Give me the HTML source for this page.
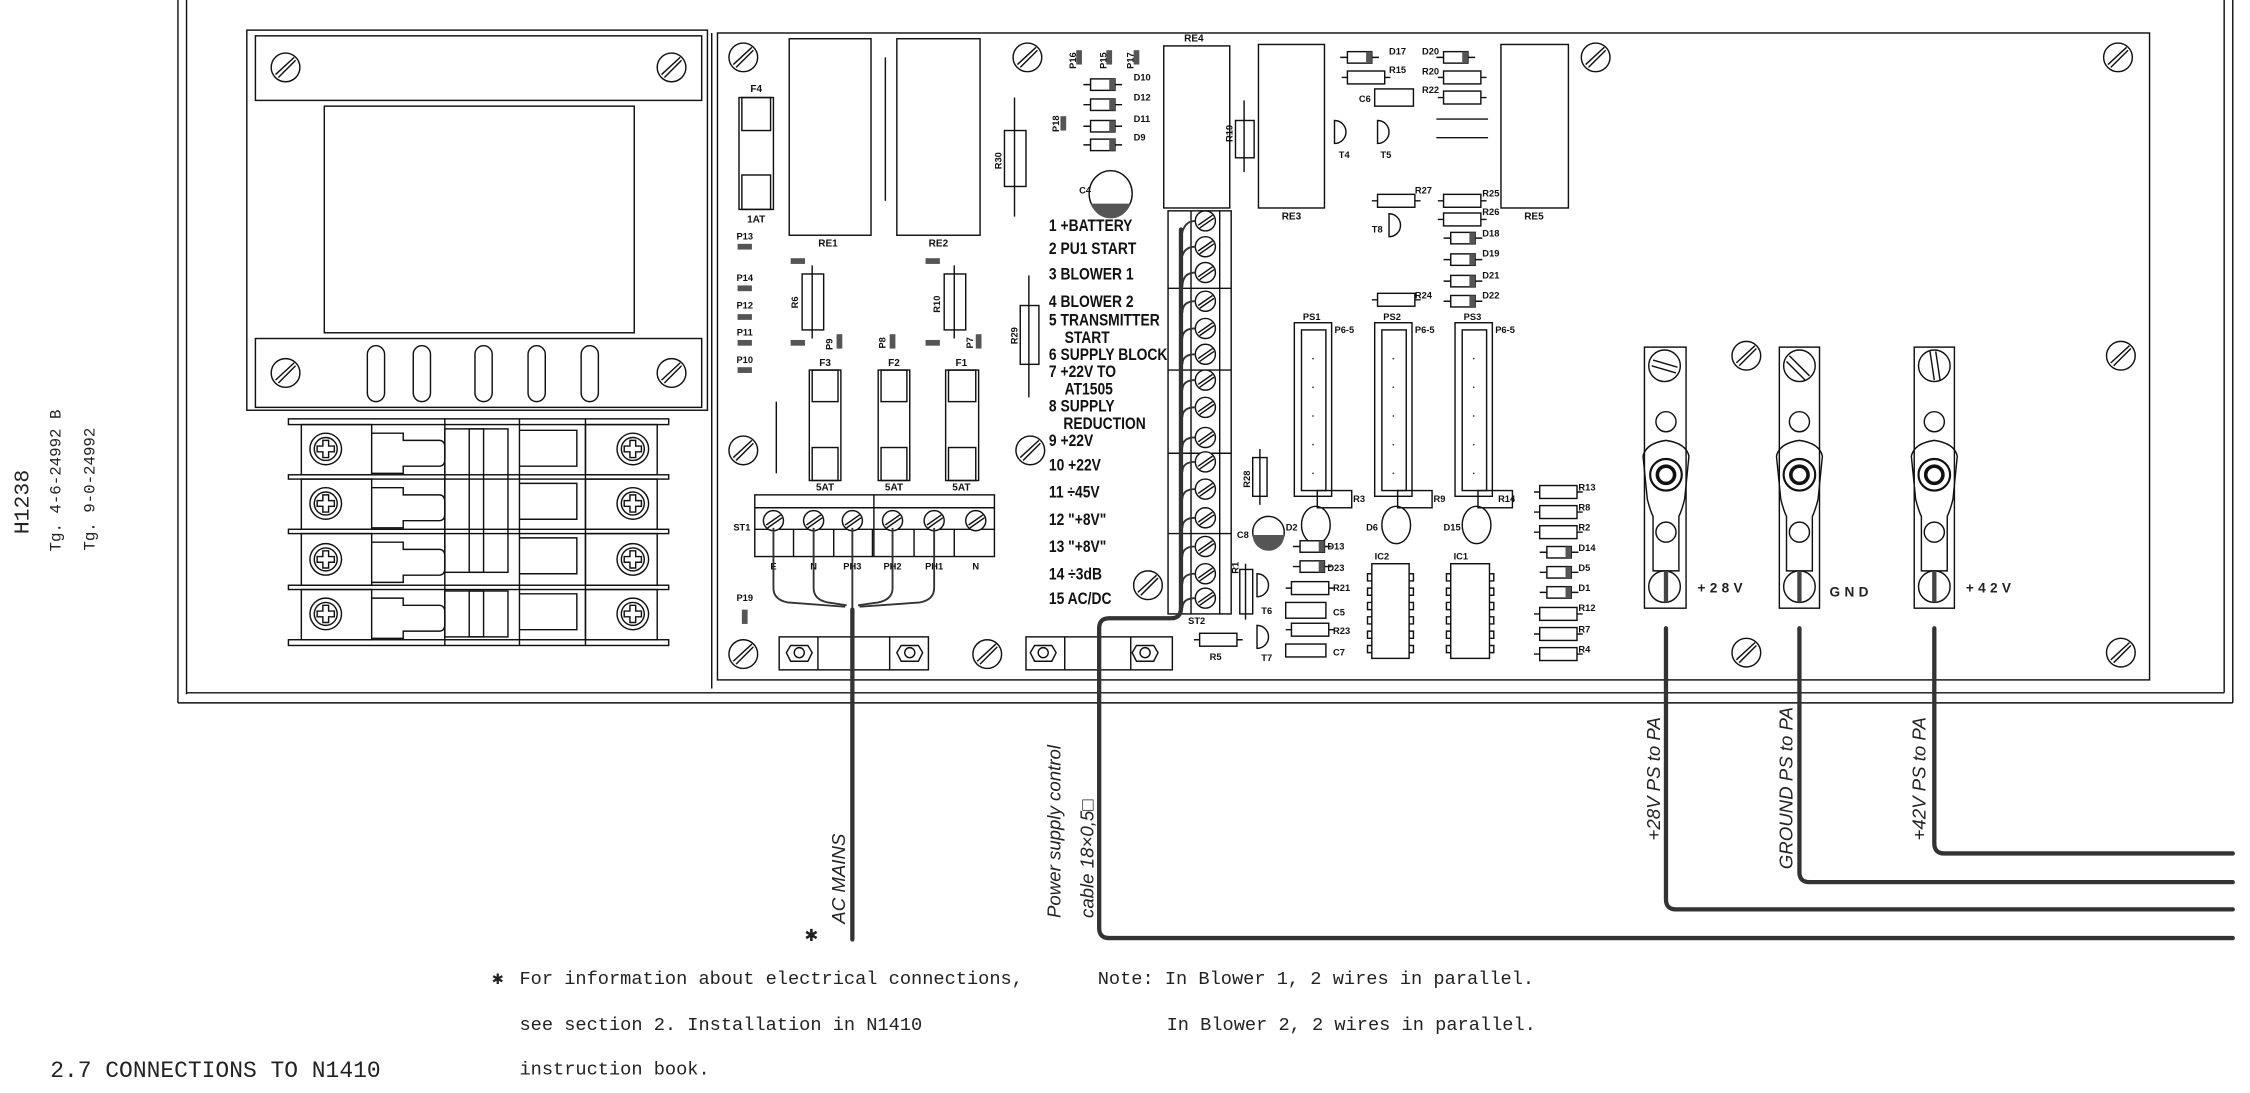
<!DOCTYPE html>
<html><head><meta charset="utf-8"><style>
html,body{margin:0;padding:0;background:#fff;}
svg{display:block}
.s{fill:none;stroke:#111;stroke-width:1}
.l{font-family:"Liberation Sans Narrow","Liberation Sans",sans-serif;font-weight:bold;fill:#111}
.m{font-family:"Liberation Mono",monospace;fill:#222}
.w{fill:none;stroke:#333;stroke-width:3;stroke-linejoin:round;stroke-linecap:round}
.it{font-family:"Liberation Sans",sans-serif;font-style:italic;fill:#222}
</style></head><body>
<svg width="2250" height="1093" viewBox="0 0 1568 762" preserveAspectRatio="none" xmlns="http://www.w3.org/2000/svg">
<defs>
<g id="sc"><circle r="10" fill="#fff" stroke="#111" stroke-width="1"/><line x1="-7" y1="5" x2="6" y2="-7" stroke="#111"/><line x1="-5" y1="7" x2="7" y2="-5" stroke="#111"/></g>
<g id="ph"><circle r="11" fill="#fff" stroke="#111"/><circle r="8" fill="none" stroke="#111"/><path d="M-2,-6 h4 v4 h4 v4 h-4 v4 h-4 v-4 h-4 v-4 h4z" fill="none" stroke="#111"/></g>
<g id="ss"><circle r="7" fill="#fff" stroke="#111"/><line x1="-5" y1="3" x2="5" y2="-4" stroke="#111"/><line x1="-4" y1="5" x2="6" y2="-2" stroke="#111"/></g>
<g id="rh"><line x1="-4" y1="0" x2="30" y2="0" stroke="#111"/><rect x="0" y="-4.5" width="26" height="9" fill="#fff" stroke="#111"/></g>
<g id="dh"><line x1="-5" y1="0" x2="22" y2="0" stroke="#111"/><rect x="0" y="-4" width="17" height="8" fill="#fff" stroke="#111"/><rect x="13" y="-4" width="4" height="8" fill="#555"/></g>
<g id="pad"><rect x="-5" y="-2" width="10" height="4" fill="#555"/></g>
<g id="vpad"><rect x="-2" y="-5" width="4" height="10" fill="#555"/></g>
</defs>

<!-- frame -->
<line class="s" x1="124" y1="0" x2="124" y2="490"/>
<line class="s" x1="130" y1="0" x2="130" y2="484"/>
<line class="s" x1="124" y1="490" x2="1556" y2="490"/>
<line class="s" x1="130" y1="483" x2="1550" y2="483"/>
<line class="s" x1="1550" y1="0" x2="1550" y2="483"/>
<line class="s" x1="1556" y1="0" x2="1556" y2="490"/>

<!-- left text -->
<text class="m" font-size="15" transform="translate(20,350) rotate(-90)" text-anchor="middle">H1238</text>
<text class="m" font-size="11" transform="translate(42,335) rotate(-90)" text-anchor="middle">Tg. 4-6-24992 B</text>
<text class="m" font-size="11" transform="translate(66,341) rotate(-90)" text-anchor="middle">Tg. 9-0-24992</text>

<!-- transformer -->
<rect class="s" x="172" y="21" width="321" height="265"/>
<rect class="s" x="178" y="25" width="311" height="45"/>
<rect class="s" x="226" y="74" width="216" height="158"/>
<rect class="s" x="178" y="236" width="311" height="48"/>
<use href="#sc" x="199" y="47"/><use href="#sc" x="468" y="47"/>
<use href="#sc" x="199" y="260"/><use href="#sc" x="468" y="260"/>
<rect class="s" x="256" y="241" width="12" height="39" rx="6"/>
<rect class="s" x="288" y="241" width="12" height="39" rx="6"/>
<rect class="s" x="331" y="241" width="12" height="39" rx="6"/>
<rect class="s" x="368" y="241" width="12" height="39" rx="6"/>
<rect class="s" x="405" y="241" width="12" height="39" rx="6"/>

<!-- contactor -->
<rect class="s" x="201" y="292" width="265" height="4"/>
<rect class="s" x="201" y="331" width="265" height="3"/>
<rect class="s" x="201" y="369" width="265" height="3"/>
<rect class="s" x="201" y="408" width="265" height="3"/>
<rect class="s" x="201" y="446" width="265" height="4"/>
<line class="s" x1="310" y1="292" x2="310" y2="450"/>
<line class="s" x1="362" y1="292" x2="362" y2="450"/>
<line class="s" x1="408" y1="292" x2="408" y2="450"/>
<rect class="s" x="210" y="296" width="49" height="35"/>
<rect class="s" x="210" y="334" width="49" height="35"/>
<rect class="s" x="210" y="372" width="49" height="36"/>
<rect class="s" x="210" y="411" width="49" height="35"/>
<rect class="s" x="408" y="296" width="50" height="35"/>
<rect class="s" x="408" y="334" width="50" height="35"/>
<rect class="s" x="408" y="372" width="50" height="36"/>
<rect class="s" x="408" y="411" width="50" height="35"/>
<use href="#ph" x="227" y="313"/><use href="#ph" x="227" y="351"/><use href="#ph" x="227" y="390"/><use href="#ph" x="227" y="428"/>
<use href="#ph" x="441" y="313"/><use href="#ph" x="441" y="351"/><use href="#ph" x="441" y="390"/><use href="#ph" x="441" y="428"/>
<path class="s" d="M259,302 h22 v5 h25 q4,0 4,5 v8 q0,5 -4,5 h-25 v5 h-22"/>
<path class="s" d="M259,340 h22 v5 h25 q4,0 4,5 v8 q0,5 -4,5 h-25 v5 h-22"/>
<path class="s" d="M259,378 h22 v5 h25 q4,0 4,5 v8 q0,5 -4,5 h-25 v5 h-22"/>
<path class="s" d="M259,417 h22 v5 h25 q4,0 4,5 v8 q0,5 -4,5 h-25 v5 h-22"/>
<rect class="s" x="310" y="299" width="44" height="100"/>
<rect class="s" x="327" y="299" width="10" height="100"/>
<rect class="s" x="310" y="412" width="44" height="32"/>
<rect class="s" x="327" y="412" width="10" height="32"/>
<path class="s" d="M362,300 h40 v25 h-40 M362,337 h40 v25 h-40 M362,375 h40 v25 h-40 M362,414 h40 v25 h-40"/>

<!-- PCB -->
<rect class="s" x="500" y="23" width="998" height="451"/>
<line class="s" x1="496" y1="23" x2="496" y2="480"/>

<use href="#sc" x="518" y="40"/><use href="#sc" x="716" y="40"/><use href="#sc" x="1112" y="40"/><use href="#sc" x="1476" y="40"/>
<use href="#sc" x="518" y="314"/><use href="#sc" x="718" y="314"/><use href="#sc" x="800" y="408"/>
<use href="#sc" x="518" y="456"/><use href="#sc" x="688" y="456"/>
<use href="#sc" x="1217" y="248"/><use href="#sc" x="1478" y="248"/><use href="#sc" x="1217" y="455"/><use href="#sc" x="1478" y="455"/>

<!-- relays -->
<rect class="s" x="550" y="27" width="57" height="137"/>
<rect class="s" x="625" y="27" width="58" height="137"/>
<line class="s" x1="617" y1="40" x2="617" y2="140"/>
<rect class="s" x="811" y="32" width="46" height="113"/>
<rect class="s" x="877" y="31" width="46" height="114"/>
<rect class="s" x="1046" y="31" width="47" height="114"/>
<g class="l" font-size="7" text-anchor="middle">
<text x="577" y="172">RE1</text><text x="654" y="172">RE2</text><text x="832" y="29">RE4</text><text x="900" y="153">RE3</text><text x="1069" y="153">RE5</text>
<text x="527" y="64">F4</text><text x="527" y="155">1AT</text>
<text x="575" y="255">F3</text><text x="623" y="255">F2</text><text x="670" y="255">F1</text>
<text x="575" y="342">5AT</text><text x="623" y="342">5AT</text><text x="670" y="342">5AT</text>
</g>
<!-- fuses -->
<g class="s">
<rect x="515" y="68" width="24" height="78"/><rect x="517" y="68" width="20" height="23"/><rect x="517" y="122" width="20" height="24"/>
<rect x="564" y="258" width="22" height="77"/><rect x="566" y="258" width="18" height="22"/><rect x="566" y="312" width="18" height="23"/>
<rect x="612" y="258" width="22" height="77"/><rect x="614" y="258" width="18" height="22"/><rect x="614" y="312" width="18" height="23"/>
<rect x="659" y="258" width="23" height="77"/><rect x="661" y="258" width="19" height="22"/><rect x="661" y="312" width="19" height="23"/>
</g>
<line class="s" x1="541" y1="280" x2="541" y2="330"/>
<!-- P pads -->
<g class="l" font-size="6.5" text-anchor="middle">
<text x="519" y="167">P13</text><text x="519" y="196">P14</text><text x="519" y="215">P12</text><text x="519" y="234">P11</text><text x="519" y="253">P10</text><text x="519" y="419">P19</text>
</g>
<use href="#pad" x="519" y="172"/><use href="#pad" x="519" y="201"/><use href="#pad" x="519" y="221"/><use href="#pad" x="519" y="239"/><use href="#pad" x="519" y="258"/>
<rect x="517" y="425" width="4" height="10" fill="#555"/>
<!-- R6 R10 -->
<line class="s" x1="566" y1="185" x2="566" y2="236"/><rect class="s" x="559" y="191" width="15" height="39" fill="#fff"/>
<line class="s" x1="665" y1="185" x2="665" y2="236"/><rect class="s" x="658" y="191" width="15" height="39" fill="#fff"/>
<use href="#pad" x="556" y="182"/><use href="#pad" x="556" y="239"/><use href="#pad" x="650" y="182"/><use href="#pad" x="650" y="239"/>
<use href="#vpad" x="585" y="238"/><use href="#vpad" x="622" y="238"/><use href="#vpad" x="682" y="238"/>
<g class="l" font-size="6.5">
<text transform="translate(556,215) rotate(-90)">R6</text><text transform="translate(655,218) rotate(-90)">R10</text>
<text transform="translate(580,244) rotate(-90)">P9</text><text transform="translate(617,243) rotate(-90)">P8</text><text transform="translate(678,243) rotate(-90)">P7</text>
<text transform="translate(709,240) rotate(-90)">R29</text><text transform="translate(698,118) rotate(-90)">R30</text>
<text transform="translate(859,99) rotate(-90)">R19</text><text transform="translate(738,92) rotate(-90)">P18</text>
<text transform="translate(750,48) rotate(-90)">P16</text><text transform="translate(771,48) rotate(-90)">P15</text><text transform="translate(790,48) rotate(-90)">P17</text>
<text transform="translate(871,340) rotate(-90)">R28</text><text transform="translate(863,400) rotate(-90)">R1</text>
</g>
<!-- R29 R30 R19 -->
<line class="s" x1="717" y1="192" x2="717" y2="277"/><rect class="s" x="711" y="213" width="13" height="41" fill="#fff"/>
<line class="s" x1="707" y1="68" x2="707" y2="151"/><rect class="s" x="700" y="91" width="15" height="39" fill="#fff"/>
<line class="s" x1="867" y1="70" x2="867" y2="120"/><rect class="s" x="861" y="84" width="13" height="26" fill="#fff"/>
<!-- C4 -->
<ellipse class="s" cx="774" cy="135" rx="15" ry="16"/>
<path d="M760,142 A15,16 0 0 0 788,142 Z" fill="#555"/>
<text class="l" font-size="6.5" x="752" y="135">C4</text>
<use href="#vpad" x="752" y="40"/><use href="#vpad" x="773" y="40"/><use href="#vpad" x="792" y="40"/><use href="#vpad" x="741" y="86"/>
<!-- D10.. -->
<use href="#dh" x="760" y="59"/><use href="#dh" x="760" y="73"/><use href="#dh" x="760" y="88"/><use href="#dh" x="760" y="101"/>
<g class="l" font-size="6.5"><text x="790" y="56">D10</text><text x="790" y="70">D12</text><text x="790" y="85">D11</text><text x="790" y="98">D9</text></g>
<!-- top right components -->
<use href="#dh" x="939" y="40"/><use href="#rh" x="939" y="54"/>
<rect class="s" x="958" y="62" width="27" height="12"/>
<use href="#dh" x="1006" y="40"/><use href="#rh" x="1006" y="54"/><use href="#rh" x="1006" y="68"/>
<line class="s" x1="1001" y1="83" x2="1037" y2="83"/><line class="s" x1="1001" y1="96" x2="1037" y2="96"/>
<g class="l" font-size="6.5">
<text x="968" y="38">D17</text><text x="968" y="51">R15</text><text x="947" y="71">C6</text>
<text x="991" y="38">D20</text><text x="991" y="52">R20</text><text x="991" y="65">R22</text>
<text x="933" y="110">T4</text><text x="962" y="110">T5</text><text x="956" y="162">T8</text>
<text x="986" y="135">R27</text><text x="1033" y="137">R25</text><text x="1033" y="150">R26</text>
<text x="1033" y="165">D18</text><text x="1033" y="179">D19</text><text x="1033" y="194">D21</text><text x="1033" y="208">D22</text><text x="986" y="208">R24</text>
</g>
<path class="s" d="M930,84 a8,8 0 0 1 0,16 z"/>
<path class="s" d="M960,84 a8,8 0 0 1 0,16 z"/>
<path class="s" d="M968,149 a8,8 0 0 1 0,16 z"/>
<use href="#rh" x="960" y="140"/><use href="#rh" x="1006" y="140"/><use href="#rh" x="1006" y="153"/><use href="#rh" x="960" y="209"/>
<use href="#dh" x="1011" y="166"/><use href="#dh" x="1011" y="181"/><use href="#dh" x="1011" y="196"/><use href="#dh" x="1011" y="210"/>

<!-- text list -->
<g class="l" font-size="11.5" transform="translate(731,0) scale(0.84,1) translate(-731,0)">
<text x="731" y="161">1 +BATTERY</text>
<text x="731" y="177">2 PU1 START</text>
<text x="731" y="195">3 BLOWER 1</text>
<text x="731" y="214">4 BLOWER 2</text>
<text x="731" y="227">5 TRANSMITTER</text>
<text x="744" y="239">START</text>
<text x="731" y="251">6 SUPPLY BLOCK</text>
<text x="731" y="263">7 +22V TO</text>
<text x="744" y="275">AT1505</text>
<text x="731" y="287">8 SUPPLY</text>
<text x="743" y="299">REDUCTION</text>
<text x="731" y="311">9 +22V</text>
<text x="731" y="328">10 +22V</text>
<text x="731" y="347">11 ÷45V</text>
<text x="731" y="366">12 "+8V"</text>
<text x="731" y="385">13 "+8V"</text>
<text x="731" y="404">14 ÷3dB</text>
<text x="731" y="421">15 AC/DC</text>
</g>

<!-- ST2 -->
<rect class="s" x="814" y="147" width="44" height="281"/>
<line class="s" x1="830" y1="147" x2="830" y2="428"/>
<line class="s" x1="850" y1="147" x2="850" y2="428"/>
<path class="s" d="M814,201 h44 M814,258 h44 M814,316 h44 M814,372 h44"/>
<use href="#ss" x="840" y="154"/><use href="#ss" x="840" y="172"/><use href="#ss" x="840" y="190"/>
<use href="#ss" x="840" y="210"/><use href="#ss" x="840" y="229"/><use href="#ss" x="840" y="247"/>
<use href="#ss" x="840" y="265"/><use href="#ss" x="840" y="284"/><use href="#ss" x="840" y="305"/>
<use href="#ss" x="840" y="322"/><use href="#ss" x="840" y="341"/><use href="#ss" x="840" y="361"/>
<use href="#ss" x="840" y="381"/><use href="#ss" x="840" y="400"/><use href="#ss" x="840" y="417"/>
<g fill="none" stroke="#333" stroke-width="1.3">
<path d="M823,170 q0,-16 10,-16"/><path d="M823,185 q0,-13 10,-13"/><path d="M824,200 q0,-10 9,-10"/>
<path d="M824,218 q0,-8 9,-8"/><path d="M824,236 q0,-7 9,-7"/><path d="M824,254 q0,-7 9,-7"/>
<path d="M824,272 q0,-7 9,-7"/><path d="M824,291 q0,-7 9,-7"/><path d="M824,312 q0,-7 9,-7"/>
<path d="M824,329 q0,-7 9,-7"/><path d="M824,348 q0,-7 9,-7"/><path d="M824,368 q0,-7 9,-7"/>
<path d="M824,388 q0,-7 9,-7"/><path d="M824,407 q0,-7 9,-7"/><path d="M824,424 q0,-7 9,-7"/>
</g>
<text class="l" font-size="6.5" x="828" y="435">ST2</text>

<!-- ST1 -->
<rect class="s" x="526" y="345" width="167" height="43"/>
<line class="s" x1="526" y1="354" x2="693" y2="354"/>
<line class="s" x1="526" y1="369" x2="693" y2="369"/>
<line class="s" x1="609" y1="345" x2="609" y2="388"/>
<path class="s" d="M553,369 v19 M581,369 v19 M608,369 v19 M637,369 v19 M665,369 v19"/>
<use href="#ss" x="539" y="363"/><use href="#ss" x="567" y="363"/><use href="#ss" x="594" y="363"/><use href="#ss" x="622" y="363"/><use href="#ss" x="651" y="363"/><use href="#ss" x="680" y="363"/>
<g class="l" font-size="6.5" text-anchor="middle">
<text x="517" y="370">ST1</text>
<text x="539" y="397">E</text><text x="567" y="397">N</text><text x="594" y="397">PH3</text><text x="622" y="397">PH2</text><text x="651" y="397">PH1</text><text x="680" y="397">N</text>
</g>
<g fill="none" stroke="#333" stroke-width="1.3">
<path d="M539,368 V410 q0,8 10,10 l40,3"/><path d="M567,368 V410 q0,8 10,10 l13,2"/>
<path d="M594,368 V430"/><path d="M622,368 V410 q0,8 -10,10 l-14,2"/><path d="M651,368 V410 q0,8 -10,10 l-42,3"/>
</g>

<!-- bottom clamps -->
<rect class="s" x="543" y="444" width="104" height="23"/>
<path class="s" d="M570,444 v23 M620,444 v23"/>
<polygon class="s" points="551,450 563,450 566,455 563,461 551,461 548,455"/><circle class="s" cx="557" cy="455" r="3.5"/>
<polygon class="s" points="628,450 640,450 643,455 640,461 628,461 625,455"/><circle class="s" cx="634" cy="455" r="3.5"/>
<rect class="s" x="715" y="444" width="102" height="23"/>
<path class="s" d="M742,444 v23 M788,444 v23"/>
<polygon class="s" points="721,450 733,450 736,455 733,461 721,461 718,455"/><circle class="s" cx="727" cy="455" r="3.5"/>
<polygon class="s" points="792,450 804,450 807,455 804,461 792,461 789,455"/><circle class="s" cx="798" cy="455" r="3.5"/>

<!-- middle lower components -->
<line class="s" x1="878" y1="313" x2="878" y2="352"/><rect class="s" x="873" y="319" width="10" height="27" fill="#fff"/>
<circle class="s" cx="884" cy="371" r="11"/><path d="M873,373 A11,11 0 0 0 895,373 Z" fill="#555"/>
<text class="l" font-size="6.5" x="862" y="375">C8</text>
<g class="s">
<rect x="902" y="225" width="26" height="121"/><rect x="907" y="230" width="17" height="112"/>
<rect x="958" y="225" width="26" height="121"/><rect x="963" y="230" width="17" height="112"/>
<rect x="1014" y="225" width="26" height="121"/><rect x="1019" y="230" width="17" height="112"/>
</g>
<g fill="#333"><circle cx="915" cy="250" r=".6"/><circle cx="915" cy="270" r=".6"/><circle cx="915" cy="290" r=".6"/><circle cx="915" cy="310" r=".6"/><circle cx="915" cy="330" r=".6"/>
<circle cx="971" cy="250" r=".6"/><circle cx="971" cy="270" r=".6"/><circle cx="971" cy="290" r=".6"/><circle cx="971" cy="310" r=".6"/><circle cx="971" cy="330" r=".6"/>
<circle cx="1027" cy="250" r=".6"/><circle cx="1027" cy="270" r=".6"/><circle cx="1027" cy="290" r=".6"/><circle cx="1027" cy="310" r=".6"/><circle cx="1027" cy="330" r=".6"/></g>
<g class="l" font-size="6.5">
<text x="908" y="223">PS1</text><text x="964" y="223">PS2</text><text x="1020" y="223">PS3</text>
<text x="930" y="232">P6-5</text><text x="986" y="232">P6-5</text><text x="1042" y="232">P6-5</text>
<text x="943" y="350">R3</text><text x="999" y="350">R9</text><text x="1044" y="350">R14</text>
<text x="896" y="370">D2</text><text x="952" y="370">D6</text><text x="1006" y="370">D15</text>
<text x="958" y="390">IC2</text><text x="1013" y="390">IC1</text>
<text x="925" y="383">D13</text><text x="925" y="398">D23</text><text x="929" y="412">R21</text><text x="929" y="429">C5</text><text x="929" y="442">R23</text><text x="929" y="457">C7</text>
<text x="879" y="428">T6</text><text x="879" y="461">T7</text><text x="843" y="460">R5</text>
<text x="1100" y="342">R13</text><text x="1100" y="356">R8</text><text x="1100" y="370">R2</text><text x="1100" y="384">D14</text><text x="1100" y="398">D5</text><text x="1100" y="412">D1</text><text x="1100" y="426">R12</text><text x="1100" y="441">R7</text><text x="1100" y="455">R4</text>
</g>
<rect class="s" x="918" y="342" width="24" height="12" fill="#fff"/>
<rect class="s" x="974" y="342" width="24" height="12" fill="#fff"/>
<rect class="s" x="1030" y="342" width="24" height="12" fill="#fff"/>
<ellipse class="s" cx="917" cy="366" rx="10" ry="13"/><ellipse class="s" cx="973" cy="366" rx="10" ry="13"/><ellipse class="s" cx="1029" cy="366" rx="10" ry="13"/>
<rect class="s" x="956" y="393" width="26" height="66"/><rect class="s" x="1011" y="393" width="27" height="66"/>
<g class="s">
<path d="M956,400 h-3 v5 h3 M956,410 h-3 v5 h3 M956,420 h-3 v5 h3 M956,430 h-3 v5 h3 M956,440 h-3 v5 h3 M956,450 h-3 v5 h3"/>
<path d="M982,400 h3 v5 h-3 M982,410 h3 v5 h-3 M982,420 h3 v5 h-3 M982,430 h3 v5 h-3 M982,440 h3 v5 h-3 M982,450 h3 v5 h-3"/>
<path d="M1011,400 h-3 v5 h3 M1011,410 h-3 v5 h3 M1011,420 h-3 v5 h3 M1011,430 h-3 v5 h3 M1011,440 h-3 v5 h3 M1011,450 h-3 v5 h3"/>
<path d="M1038,400 h3 v5 h-3 M1038,410 h3 v5 h-3 M1038,420 h3 v5 h-3 M1038,430 h3 v5 h-3 M1038,440 h3 v5 h-3 M1038,450 h3 v5 h-3"/>
</g>
<use href="#dh" x="906" y="381"/><use href="#dh" x="906" y="395"/><use href="#rh" x="900" y="410"/>
<rect class="s" x="896" y="420" width="28" height="11"/><use href="#rh" x="900" y="439"/><rect class="s" x="896" y="449" width="28" height="9"/>
<line class="s" x1="868" y1="393" x2="868" y2="432"/><rect class="s" x="864" y="397" width="9" height="31" fill="#fff"/>
<path class="s" d="M876,400 a8,8 0 0 1 0,16 z"/><path class="s" d="M876,436 a8,8 0 0 1 0,16 z"/>
<use href="#rh" x="836" y="446"/>
<use href="#rh" x="1073" y="343"/><use href="#rh" x="1073" y="357"/><use href="#rh" x="1073" y="371"/>
<use href="#dh" x="1078" y="385"/><use href="#dh" x="1078" y="399"/><use href="#dh" x="1078" y="413"/>
<use href="#rh" x="1073" y="428"/><use href="#rh" x="1073" y="442"/><use href="#rh" x="1073" y="456"/>

<!-- right terminal bars -->
<g>
<rect class="s" x="1146" y="242" width="29" height="182"/>
<circle class="s" cx="1160" cy="255" r="11"/><line class="s" x1="1152" y1="251" x2="1169" y2="256"/><line class="s" x1="1151" y1="255" x2="1168" y2="260"/>
<circle class="s" cx="1161" cy="294" r="7"/><circle class="s" cx="1161" cy="371" r="7"/>
<path class="s" d="M1145,318 q2,-9 16,-11 q14,2 16,11 l-3,30 q-2,8 -4,12 v38 h-18 v-38 q-2,-4 -4,-12 z" stroke-width="1.5"/>
<circle cx="1161" cy="331" r="11" fill="none" stroke="#111" stroke-width="1.5"/><circle cx="1161" cy="331" r="6" fill="none" stroke="#111" stroke-width="2.5"/>
<circle class="s" cx="1160" cy="409" r="11"/><line x1="1161" y1="398" x2="1161" y2="420" stroke="#444" stroke-width="3"/>
<text x="1183" y="413" font-family="Liberation Sans,sans-serif" font-weight="bold" font-size="9.5" letter-spacing="3" fill="#222">+28V</text>
</g>
<g>
<rect class="s" x="1240" y="242" width="28" height="182"/>
<circle class="s" cx="1254" cy="255" r="11"/><line class="s" x1="1247" y1="248" x2="1261" y2="262"/><line class="s" x1="1245" y1="252" x2="1258" y2="265"/>
<circle class="s" cx="1254" cy="294" r="7"/><circle class="s" cx="1254" cy="371" r="7"/>
<path class="s" d="M1238,318 q2,-9 16,-11 q14,2 16,11 l-3,30 q-2,8 -4,12 v38 h-18 v-38 q-2,-4 -4,-12 z" stroke-width="1.5"/>
<circle cx="1254" cy="331" r="11" fill="none" stroke="#111" stroke-width="1.5"/><circle cx="1254" cy="331" r="6" fill="none" stroke="#111" stroke-width="2.5"/>
<circle class="s" cx="1254" cy="409" r="11"/><line x1="1254" y1="398" x2="1254" y2="420" stroke="#444" stroke-width="3"/>
<text x="1275" y="416" font-family="Liberation Sans,sans-serif" font-weight="bold" font-size="9.5" letter-spacing="3" fill="#222">GND</text>
</g>
<g>
<rect class="s" x="1334" y="242" width="28" height="182"/>
<circle class="s" cx="1348" cy="255" r="11"/><line class="s" x1="1345" y1="245" x2="1348" y2="265"/><line class="s" x1="1349" y1="245" x2="1352" y2="265"/>
<circle class="s" cx="1348" cy="294" r="7"/><circle class="s" cx="1348" cy="371" r="7"/>
<path class="s" d="M1332,318 q2,-9 16,-11 q14,2 16,11 l-3,30 q-2,8 -4,12 v38 h-18 v-38 q-2,-4 -4,-12 z" stroke-width="1.5"/>
<circle cx="1348" cy="331" r="11" fill="none" stroke="#111" stroke-width="1.5"/><circle cx="1348" cy="331" r="6" fill="none" stroke="#111" stroke-width="2.5"/>
<circle class="s" cx="1348" cy="409" r="11"/><line x1="1348" y1="398" x2="1348" y2="420" stroke="#444" stroke-width="3"/>
<text x="1370" y="413" font-family="Liberation Sans,sans-serif" font-weight="bold" font-size="9.5" letter-spacing="3" fill="#222">+42V</text>
</g>

<!-- cables -->
<path class="w" d="M594,425 V655"/>
<path class="w" d="M823,160 V424 q0,7 -7,7 H773 q-7,0 -7,7 V647 q0,7 7,7 H1556"/>
<path class="w" d="M1161,438 V627 q0,7 7,7 H1556"/>
<path class="w" d="M1254,438 V608 q0,7 7,7 H1556"/>
<path class="w" d="M1348,438 V588 q0,7 7,7 H1556"/>

<g class="it" font-size="13">
<text transform="translate(589,644) rotate(-90)">AC MAINS</text>
<text transform="translate(739,640) rotate(-90)">Power supply control</text>
<text transform="translate(762,640) rotate(-90)">cable  18×0,5□</text>
<text transform="translate(1157,586) rotate(-90)">+28V PS to PA</text>
<text transform="translate(1249,606) rotate(-90)">GROUND PS to PA</text>
<text transform="translate(1342,586) rotate(-90)">+42V PS to PA</text>
</g>
<text x="561" y="656" font-family="Liberation Mono,monospace" font-size="15" fill="#222">✱</text>

<!-- notes -->
<g class="m" font-size="13">
<text x="343" y="686">✱</text>
<text x="362" y="686">For information about electrical connections,</text>
<text x="362" y="718">see section 2. Installation in N1410</text>
<text x="362" y="749">instruction book.</text>
<text x="765" y="686">Note: In Blower 1, 2 wires in parallel.</text>
<text x="813" y="718">In Blower 2, 2 wires in parallel.</text>
</g>
<text x="35" y="751" font-family="Liberation Mono,monospace" font-size="16" fill="#222">2.7 CONNECTIONS TO N1410</text>
</svg>
</body></html>
